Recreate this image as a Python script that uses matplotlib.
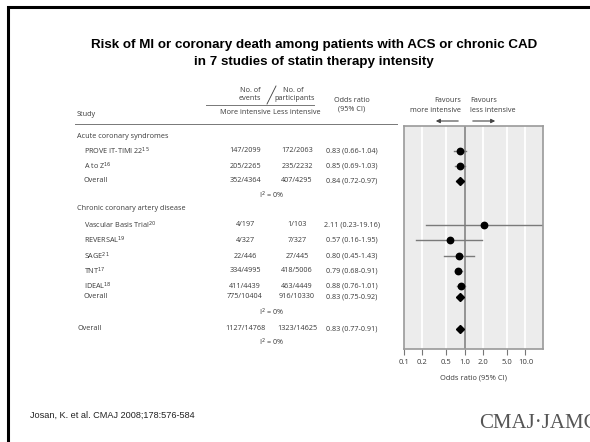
import numpy as np
import matplotlib
matplotlib.use("Agg")
import matplotlib.pyplot as plt

# dati
studi = ["PROVE IT-TIMI 22$^{15}$", "A to Z$^{16}$", "Overall",
         "Vascular Basis Trial$^{20}$", "REVERSAL$^{19}$", "SAGE$^{21}$", "TNT$^{17}$",
         "IDEAL$^{18}$", "Overall", "Overall"]
eventi_piu = ["147/2099", "205/2265", "352/4364", "4/197", "4/327", "22/446",
              "334/4995", "411/4439", "775/10404", "1127/14768"]
eventi_meno = ["172/2063", "235/2232", "407/4295", "1/103", "7/327", "27/445",
               "418/5006", "463/4449", "916/10330", "1323/14625"]
odds = [0.83, 0.85, 0.84, 2.11, 0.57, 0.80, 0.79, 0.88, 0.83, 0.83]
ci_low = [0.66, 0.69, 0.72, 0.23, 0.16, 0.45, 0.68, 0.76, 0.75, 0.77]
ci_high = [1.04, 1.03, 0.97, 19.16, 1.95, 1.43, 0.91, 1.01, 0.92, 0.91]
pooled = [False, False, True, False, False, False, False, False, True, True]

gruppi = ["Acute coronary syndromes", "Chronic coronary artery disease"]
eterogeneita = ["I$^2$ = 0%", "I$^2$ = 0%", "I$^2$ = 0%"]
tick_vals = [0.1, 0.2, 0.5, 1.0, 2.0, 5.0, 10.0]
tick_labels = ["0.1", "0.2", "0.5", "1.0", "2.0", "5.0", "10.0"]

# posizioni verticali delle righe (pixel dall'alto)
righe_y = [151, 166, 181, 225, 240, 256, 271, 286, 297, 329]
gruppi_y = [136, 209]
i2_y = [195, 312, 342]

W, H = 590, 442
fig = plt.figure(figsize=(W / 100, H / 100), dpi=100)
ax = fig.add_axes([0, 0, 1, 1])
ax.set_xlim(0, W)
ax.set_ylim(H, 0)
ax.axis("off")

testo = "#3a3a3a"
fs = 5.2
fam = "Open Sans"

# cornice
ax.plot([8, 8, W], [H, 7, 7], color="black", lw=2.2, solid_joinstyle="miter")

# titolo
ax.text(314, 45, "Risk of MI or coronary death among patients with ACS or chronic CAD",
        ha="center", va="center", fontsize=9.6, fontweight="bold", family="Liberation Sans")
ax.text(314, 62, "in 7 studies of statin therapy intensity",
        ha="center", va="center", fontsize=9.6, fontweight="bold", family="Liberation Sans")

# intestazione tabella
x_studio, x_piu, x_meno, x_or = 77, 245, 297, 352
ax.text(250, 90, "No. of", ha="center", va="center", fontsize=fs, color=testo, family=fam)
ax.text(250, 99, "events", ha="center", va="center", fontsize=fs, color=testo, family=fam)
ax.text(293, 90, "No. of", ha="center", va="center", fontsize=fs, color=testo, family=fam)
ax.text(295, 99, "participants", ha="center", va="center", fontsize=fs, color=testo, family=fam)
ax.plot([267, 276], [104, 86], color=testo, lw=0.6)
ax.plot([206, 314], [105, 105], color="#777777", lw=0.7)
ax.text(x_piu, 113, "More intensive", ha="center", va="center", fontsize=fs, color=testo, family=fam)
ax.text(x_meno, 113, "Less intensive", ha="center", va="center", fontsize=fs, color=testo, family=fam)
ax.text(x_or, 100, "Odds ratio", ha="center", va="center", fontsize=fs, color=testo, family=fam)
ax.text(x_or, 109, "(95% CI)", ha="center", va="center", fontsize=fs, color=testo, family=fam)
ax.text(x_studio, 114, "Study", ha="left", va="center", fontsize=fs, color=testo, family=fam)
ax.plot([75, 397], [124, 124], color="#777777", lw=0.7)

ax.text(461, 101, "Favours", ha="right", va="center", fontsize=fs, color=testo, family=fam)
ax.text(461, 111, "more intensive", ha="right", va="center", fontsize=fs, color=testo, family=fam)
ax.text(470, 101, "Favours", ha="left", va="center", fontsize=fs, color=testo, family=fam)
ax.text(470, 111, "less intensive", ha="left", va="center", fontsize=fs, color=testo, family=fam)
ax.annotate("", xy=(433, 121), xytext=(461, 121),
            arrowprops=dict(arrowstyle="-|>", color="#444444", lw=0.8, mutation_scale=6))
ax.annotate("", xy=(498, 121), xytext=(470, 121),
            arrowprops=dict(arrowstyle="-|>", color="#444444", lw=0.8, mutation_scale=6))

# righe della tabella
for g, y in zip(gruppi, gruppi_y):
    ax.text(x_studio, y, g, ha="left", va="center", fontsize=fs, color=testo, family=fam)
for i, y in enumerate(righe_y):
    x0 = x_studio if i == len(righe_y) - 1 else x_studio + 7
    ax.text(x0, y, studi[i], ha="left", va="center", fontsize=fs, color=testo, family=fam)
    ax.text(x_piu, y, eventi_piu[i], ha="center", va="center", fontsize=fs, color=testo, family=fam)
    ax.text(x_meno, y, eventi_meno[i], ha="center", va="center", fontsize=fs, color=testo, family=fam)
    ax.text(x_or, y, f"{odds[i]:.2f} ({ci_low[i]:.2f}-{ci_high[i]:.2f})",
            ha="center", va="center", fontsize=fs, color=testo, family=fam)
for t, y in zip(eterogeneita, i2_y):
    ax.text(272, y, t, ha="center", va="center", fontsize=fs, color=testo, family=fam)

# piede
ax.text(30, 415, "Josan, K. et al. CMAJ 2008;178:576-584", ha="left", va="center",
        fontsize=6.6, family=["Liberation Sans Narrow", "Liberation Sans"], color="#222222")
ax.text(479, 423, "CMAJ\u00b7JAMC", ha="left", va="center", fontsize=15,
        family="Liberation Serif", color="#555555", clip_on=True)

# forest plot
bx0, bx1, by0, by1 = 404, 543, 126, 349
fp = fig.add_axes([bx0 / W, 1 - by1 / H, (bx1 - bx0) / W, (by1 - by0) / H])
fp.set_xscale("log")
fp.set_xlim(0.1, 19.5)
fp.set_ylim(by1, by0)
fp.set_facecolor("#ececec")
for v in tick_vals[1:]:
    fp.axvline(v, color="white", lw=1.3, zorder=0)
fp.axvline(1.0, color="#8a8a8a", lw=1.3, zorder=1)

for i, y in enumerate(righe_y):
    if ci_high[i] > 19.5:
        fp.annotate("", xy=(18.2, y), xytext=(ci_low[i], y),
                    arrowprops=dict(arrowstyle="-|>", color="#555555", lw=1.0, mutation_scale=10))
    else:
        fp.plot([ci_low[i], ci_high[i]], [y, y], color="#7a7a7a", lw=1.0, zorder=2)
    if pooled[i]:
        fp.plot(odds[i], y, marker="D", color="black", ms=4.2, zorder=3)
    else:
        fp.plot(odds[i], y, marker="o", color="black", ms=4.6, zorder=3)

fp.set_yticks([])
fp.set_xticks(tick_vals)
fp.set_xticklabels(tick_labels, fontsize=fs + 0.3, color=testo, family=fam)
fp.minorticks_off()
fp.tick_params(axis="x", direction="out", length=4, width=0.8, color="#777777", pad=3)
for s in fp.spines.values():
    s.set_color("#9a9a9a")
    s.set_linewidth(1.2)
fp.set_xlabel("Odds ratio (95% CI)", fontsize=fs + 0.2, color=testo, family=fam, labelpad=6)

fig.savefig("out.png", dpi=100)
